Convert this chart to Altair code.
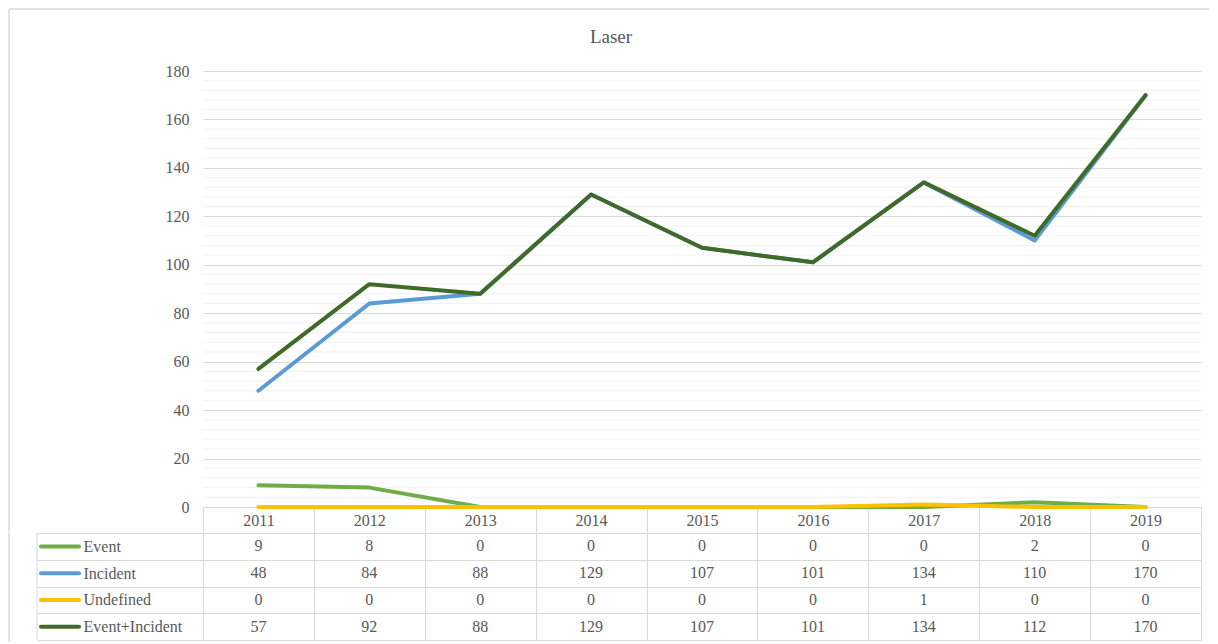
import altair as alt
import pandas as pd

# ---- data ----
years = ["2011", "2012", "2013", "2014", "2015", "2016", "2017", "2018", "2019"]
series_names = ["Event", "Incident", "Undefined", "Event+Incident"]
event = [9, 8, 0, 0, 0, 0, 0, 2, 0]
incident = [48, 84, 88, 129, 107, 101, 134, 110, 170]
undefined = [0, 0, 0, 0, 0, 0, 1, 0, 0]
event_incident = [57, 92, 88, 129, 107, 101, 134, 112, 170]
colors = ["#70ad47", "#5b9bd5", "#ffc000", "#3f6a28"]
title_text = "Laser"
y_ticks = [0, 20, 40, 60, 80, 100, 120, 140, 160, 180]

rows = []
for name, vals in zip(series_names, [event, incident, undefined, event_incident]):
    for yr, v in zip(years, vals):
        rows.append({"year": yr, "series": name, "value": v})
df = pd.DataFrame(rows)

FONT = "Liberation Serif, DejaVu Serif, serif"
GRID = "#d9d9d9"
MINOR = "#f2f2f2"
TXT = "#595959"
W, H = 998, 436
TH = 107

xscale = alt.Scale(type="band", domain=years, paddingInner=0, paddingOuter=0)
yscale = alt.Scale(domain=[0, 180], nice=False)

xaxis = alt.Axis(title=None, tickBand="extent", tickSize=25, tickColor=GRID,
                 domainColor=GRID, labelPadding=-20, labelFont=FONT,
                 labelFontSize=16, labelColor=TXT, labelAngle=0, grid=False)
yaxis = alt.Axis(title=None, values=y_ticks, grid=True, gridColor=GRID,
                 ticks=False, domain=False, labelPadding=14, labelFont=FONT,
                 labelFontSize=16, labelColor=TXT)

minor_df = pd.DataFrame({"value": [v for v in range(4, 180, 4) if v % 20]})
minor = alt.Chart(minor_df).mark_rule(color=MINOR, strokeWidth=1).encode(
    y=alt.Y("value:Q", scale=yscale, axis=yaxis)
)

line_layers = []
for s, c in zip(series_names, colors):
    line_layers.append(
        alt.Chart(df).transform_filter(alt.datum.series == s)
        .mark_line(strokeWidth=4, strokeCap="round", strokeJoin="round", color=c)
        .encode(
            x=alt.X("year:O", scale=xscale, bandPosition=0.5, axis=xaxis, sort=years),
            y=alt.Y("value:Q", scale=yscale, axis=yaxis),
        )
    )

one = pd.DataFrame({"t": [title_text]})
title = alt.Chart(one).mark_text(font=FONT, fontSize=19, color=TXT, align="center",
                                 baseline="middle").encode(
    text="t:N", x=alt.value(408), y=alt.value(-34))
border_top = alt.Chart(one).mark_rule(color=GRID, strokeWidth=1.5).encode(
    x=alt.value(-194), x2=alt.value(1006), y=alt.value(-62))
border_left = alt.Chart(one).mark_rule(color=GRID, strokeWidth=1.5).encode(
    x=alt.value(-194), y=alt.value(-62), y2=alt.value(H + 25))

top = alt.layer(minor, *line_layers, title, border_top, border_left).properties(
    width=W, height=H)

# ---- data table ----
xtab = alt.X("year:O", scale=xscale, sort=years,
             axis=alt.Axis(title=None, labels=False, ticks=False, domain=False,
                           grid=True, tickBand="extent", gridColor=GRID))
tab_scale = alt.Scale(type="band", domain=series_names, paddingInner=0, paddingOuter=0)
ytab_axis = alt.Axis(title=None, tickBand="extent", tickSize=166, tickColor=GRID,
                     grid=True, gridColor=GRID, domain=False, labelAlign="left",
                     labelPadding=-46, labelFont=FONT, labelFontSize=16,
                     labelColor=TXT)

cells = alt.Chart(df).mark_text(font=FONT, fontSize=16, color=TXT).encode(
    x=xtab,
    y=alt.Y("series:N", scale=tab_scale, sort=series_names, axis=ytab_axis),
    text="value:Q",
)
sym_df = pd.DataFrame({"series": series_names})
symbols = alt.Chart(sym_df).mark_rule(strokeWidth=4, strokeCap="round").encode(
    x=alt.value(-162), x2=alt.value(-124),
    y=alt.Y("series:N", scale=tab_scale, sort=series_names, axis=ytab_axis,
            bandPosition=0.5),
    color=alt.Color("series:N", scale=alt.Scale(domain=series_names, range=colors),
                    legend=None),
)
tab_left = alt.Chart(one).mark_rule(color=GRID, strokeWidth=1).encode(
    x=alt.value(-166), y=alt.value(0), y2=alt.value(TH))
outer_left = alt.Chart(one).mark_rule(color=GRID, strokeWidth=1.5).encode(
    x=alt.value(-194), y=alt.value(0), y2=alt.value(TH + 2))

bottom = alt.layer(cells, symbols, tab_left, outer_left).properties(width=W, height=TH)

chart = (
    alt.vconcat(top, bottom, spacing=-10)
    .properties(padding={"left": 0, "top": 0, "right": 0, "bottom": 0},
                background="white")
    .configure_view(stroke=None)
)

chart.save("out.html", embed_options={"renderer": "svg", "actions": False})
